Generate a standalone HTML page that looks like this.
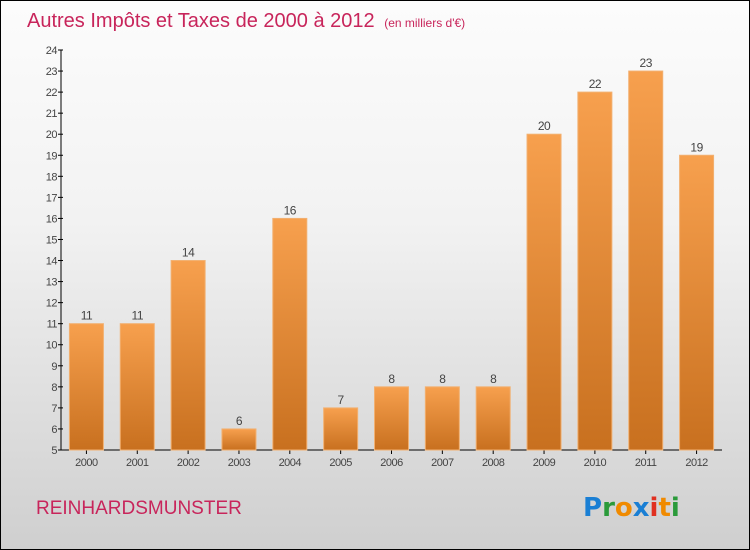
<!DOCTYPE html>
<html><head><meta charset="utf-8"><style>
html,body{margin:0;padding:0}
body{width:750px;height:550px;overflow:hidden;font-family:"Liberation Sans",sans-serif}
#frame{position:absolute;left:0;top:0;width:748px;height:548px;border:1px solid #000;background:linear-gradient(#fcfcfc,#f2f2f2 40%,#cfcfcf)}
</style></head><body>
<div id="frame">
<svg width="750" height="550" style="position:absolute;left:-1px;top:-1px" id="chart">
<defs><linearGradient id="bg" x1="0" y1="0" x2="0" y2="1"><stop offset="0" stop-color="#f7a04e"/><stop offset="1" stop-color="#c8701f"/></linearGradient></defs>
<text x="27" y="27" font-size="20" fill="#c8255b">Autres Impôts et Taxes de 2000 à 2012 <tspan font-size="12" dx="4">(en milliers d'€)</tspan></text>
<text x="36" y="514" font-size="19" fill="#c8255b">REINHARDSMUNSTER</text>
<g font-size="26" font-weight="bold" font-family="'DejaVu Sans',sans-serif">
<text x="583" y="516" fill="#1a7fd4">P<tspan fill="#2a9a3a">r</tspan><tspan fill="#f08a00">o</tspan><tspan fill="#1a7fd4">x</tspan><tspan fill="#e03020">i</tspan><tspan fill="#f08a00">t</tspan><tspan fill="#2a9a3a">i</tspan></text>
</g>
<g id="axes"></g>
<g id="bars"></g>
</svg>
</div>
<script>
const years=["2000","2001","2002","2003","2004","2005","2006","2007","2008","2009","2010","2011","2012"];
const values=[11,11,14,6,16,7,8,8,8,20,22,23,19];
const yTicks=[5,6,7,8,9,10,11,12,13,14,15,16,17,18,19,20,21,22,23,24];
const NS="http://www.w3.org/2000/svg";
const yMin=5,yMax=24,yTop=50,yBot=450,x0=61,x1=722;
const yS=v=>yBot-(v-yMin)/(yMax-yMin)*(yBot-yTop);
const step=(x1-x0)/years.length;
const xc=i=>x0+step*(i+0.5);
function mk(t,a,p){const e=document.createElementNS(NS,t);for(const k in a)e.setAttribute(k,a[k]);p.appendChild(e);return e;}
const ax=document.getElementById('axes'),bs=document.getElementById('bars');
const yl=mk('line',{x1:x0,x2:x0,y1:yTop,y2:yBot,stroke:'#000'},ax);


const xl=mk('line',{x1:x0,x2:x1,y1:yBot,y2:yBot,stroke:'#000'},ax);


yTicks.forEach(v=>{
 mk('line',{x1:x0-3,x2:x0+2,y1:yS(v),y2:yS(v),stroke:'#000'},ax);
 const t=mk('text',{x:x0-4,y:yS(v)+4,'font-size':11,fill:'#444','text-anchor':'end','letter-spacing':'-0.5'},ax);
 t.textContent=v;
 
 
});
years.forEach((yr,i)=>{
 const w=34,v=values[i];
 const r=mk('rect',{x:xc(i)-w/2,y:yS(v),width:w,height:yBot-yS(v),fill:'url(#bg)',stroke:'#f2b070','stroke-width':1},bs);
 
 
 const l=mk('text',{x:xc(i),y:yS(v)-4,'font-size':12,fill:'#444','text-anchor':'middle','letter-spacing':'-0.5'},bs);
 l.textContent=v;
 
 
 mk('line',{x1:xc(i),x2:xc(i),y1:yBot,y2:yBot+4,stroke:'#000'},ax);
 const t=mk('text',{x:xc(i),y:yBot+16,'font-size':11,fill:'#444','text-anchor':'middle','letter-spacing':'-0.5'},ax);
 t.textContent=yr;
 
 
});
</script>
</body></html>
